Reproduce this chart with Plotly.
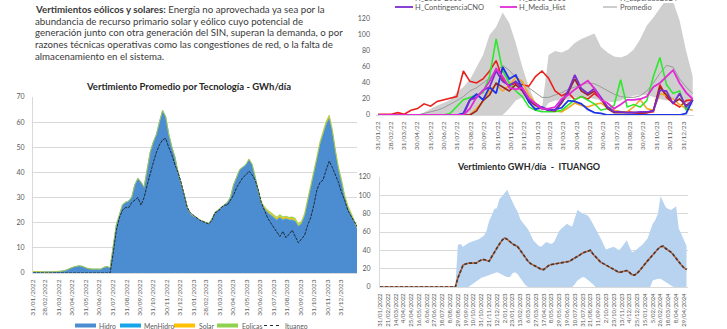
import plotly.graph_objects as go
import pandas as pd

W, H = 727, 329

# ---------------- Vertimiento promedio por tecnología (semanal) ----------------
semanas = pd.date_range("2022-01-31", periods=106, freq="7D")

hidro = [0.3, 0.3, 0.2, 0.2, 0.2, 0.3, 0.3, 0.4, 0.5, 0.6, 0.8, 1.2, 1.8, 2.3, 2.6, 2.8, 2.6, 2.0, 1.6, 1.5,
         1.5, 1.6, 1.5, 2.2, 2.5, 2.0, 10.0, 19.0, 23.0, 27.0, 28.0, 28.5, 30.0, 35.0, 37.5, 36.0, 34.0, 41.0,
         48.0, 52.0, 55.0, 60.0, 64.5, 62.0, 55.0, 50.0, 46.0, 40.0, 36.0, 31.0, 26.0, 23.5, 22.5, 22.0, 21.0,
         20.5, 20.0, 19.5, 21.5, 24.0, 25.0, 26.0, 27.0, 28.0, 30.0, 35.0, 38.0, 41.0, 42.0, 43.0, 45.0, 43.0,
         38.0, 32.0, 27.5, 25.5, 24.0, 23.0, 22.0, 21.0, 22.0, 21.0, 21.5, 21.0, 21.0, 20.5, 18.5, 19.5, 22.5,
         28.0, 33.0, 38.5, 45.0, 51.0, 55.5, 59.0, 61.5, 56.0, 48.0, 41.0, 36.0, 30.0, 26.0, 23.0, 20.0, 17.5]
men_hidro = [0.05, 0.05, 0.05, 0.05, 0.05, 0.05, 0.05, 0.05, 0.05, 0.05, 0.05, 0.05, 0.05, 0.05, 0.05, 0.05,
             0.05, 0.05, 0.05, 0.05, 0.05, 0.05, 0.05, 0.05, 0.05, 0.05, 0.1, 0.15, 0.15, 0.15, 0.15, 0.15,
             0.15, 0.15, 0.15, 0.15, 0.15, 0.15, 0.15, 0.15, 0.15, 0.15, 0.15, 0.15, 0.15, 0.15, 0.15, 0.15,
             0.15, 0.15, 0.15, 0.15, 0.15, 0.15, 0.15, 0.15, 0.15, 0.15, 0.15, 0.15, 0.15, 0.15, 0.15, 0.15,
             0.15, 0.15, 0.15, 0.15, 0.15, 0.15, 0.15, 0.15, 0.15, 0.15, 0.15, 0.15, 0.15, 0.15, 0.15, 0.15,
             0.15, 0.15, 0.15, 0.15, 0.15, 0.15, 0.15, 0.15, 0.15, 0.15, 0.15, 0.15, 0.15, 0.15, 0.15, 0.15,
             0.15, 0.15, 0.15, 0.15, 0.15, 0.15, 0.15, 0.15, 0.15, 0.15]
solar = [0.3, 0.3, 0.2, 0.2, 0.0, 0.0, 0.0, 0.0, 0.0, 0.0, 0.0, 0.0, 0.0, 0.0, 0.0, 0.0, 0.0, 0.0, 0.0, 0.0,
         0.0, 0.0, 0.0, 0.0, 0.0, 0.0, 0.0, 0.0, 0.0, 0.0, 0.0, 0.0, 0.0, 0.0, 0.0, 0.0, 0.0, 0.0, 0.0, 0.0,
         0.0, 0.0, 0.0, 0.0, 0.0, 0.0, 0.0, 0.0, 0.0, 0.0, 0.0, 0.0, 0.0, 0.0, 0.0, 0.0, 0.0, 0.0, 0.0, 0.0,
         0.0, 0.0, 0.0, 0.0, 0.0, 0.0, 0.0, 0.0, 0.0, 0.0, 0.2, 0.2, 0.3, 0.4, 0.5, 0.5, 0.6, 0.6, 0.7, 0.6,
         0.6, 0.7, 0.6, 0.6, 0.7, 0.6, 0.5, 0.6, 0.6, 0.7, 0.7, 0.7, 0.8, 0.8, 0.8, 0.9, 0.9, 0.8, 0.7, 0.7,
         0.6, 0.6, 0.5, 0.5, 0.5, 0.5]
eolicas = [0.0, 0.0, 0.0, 0.0, 0.0, 0.0, 0.0, 0.0, 0.0, 0.0, 0.0, 0.0, 0.0, 0.0, 0.0, 0.0, 0.0, 0.0, 0.0, 0.0,
           0.0, 0.0, 0.0, 0.0, 0.0, 0.0, 0.0, 0.0, 0.0, 0.0, 0.0, 0.0, 0.0, 0.0, 0.0, 0.0, 0.0, 0.0, 0.0, 0.0,
           0.0, 0.0, 0.0, 0.0, 0.0, 0.0, 0.0, 0.0, 0.0, 0.0, 0.0, 0.0, 0.0, 0.0, 0.0, 0.0, 0.0, 0.0, 0.0, 0.0,
           0.0, 0.0, 0.0, 0.0, 0.0, 0.0, 0.0, 0.0, 0.0, 0.0, 0.0, 0.0, 0.0, 0.0, 0.3, 0.3, 0.4, 0.4, 0.4, 0.5,
           0.5, 0.5, 0.4, 0.4, 0.5, 0.5, 0.4, 0.4, 0.4, 0.4, 0.3, 0.3, 0.3, 0.3, 0.3, 0.3, 0.3, 0.3, 0.3, 0.3,
           0.4, 0.4, 0.4, 0.4, 0.4, 0.4]
ituango = [0, 0, 0, 0, 0, 0, 0, 0, 0, 0, 0, 0, 0, 0, 0, 0, 0, 0, 0, 0, 0, 0, 0, 0, 0, 0,
           8, 17, 22, 25, 26, 26, 28, 29, 30, 27, 30, 35, 40, 44, 48, 51, 53, 53.5, 50, 47, 43, 40, 36, 31,
           26, 24, 23, 22, 21, 20.5, 20, 19.5, 21, 24, 24.5, 26, 27, 27, 29, 31, 34, 36, 38, 39, 40.5, 39, 37,
           33, 28, 25, 22, 20, 18, 16, 14.5, 16.5, 14, 15.5, 17, 14.5, 12, 13.5, 15, 19, 22, 27, 33, 36, 37,
           41, 44.5, 42, 39, 36, 32, 29, 25, 23, 20.5, 18.5]

meses_fin = ["2022-01-31", "2022-02-28", "2022-03-31", "2022-04-30", "2022-05-31", "2022-06-30",
             "2022-07-31", "2022-08-31", "2022-09-30", "2022-10-31", "2022-11-30", "2022-12-31",
             "2023-01-31", "2023-02-28", "2023-03-31", "2023-04-30", "2023-05-31", "2023-06-30",
             "2023-07-31", "2023-08-31", "2023-09-30", "2023-10-31", "2023-11-30", "2023-12-31"]
etiquetas_largas = ["31/01/2022", "28/02/2022", "31/03/2022", "30/04/2022", "31/05/2022", "30/06/2022",
                    "31/07/2022", "31/08/2022", "30/09/2022", "31/10/2022", "30/11/2022", "31/12/2022",
                    "31/01/2023", "28/02/2023", "31/03/2023", "30/04/2023", "31/05/2023", "30/06/2023",
                    "31/07/2023", "31/08/2023", "30/09/2023", "31/10/2023", "30/11/2023", "31/12/2023"]
etiquetas_cortas = ["31/01/22", "28/02/22", "31/03/22", "30/04/22", "31/05/22", "30/06/22",
                    "31/07/22", "31/08/22", "30/09/22", "31/10/22", "30/11/22", "31/12/22",
                    "31/01/23", "28/02/23", "31/03/23", "30/04/23", "31/05/23", "30/06/23",
                    "31/07/23", "31/08/23", "30/09/23", "31/10/23", "30/11/23", "31/12/23"]

# ---------------- Escenarios hidrológicos (quincenal) ----------------
quincenas = pd.date_range("2022-01-31", periods=49, freq="15D")

rango_max = [0, 0, 0, 0, 0, 0, 0, 3, 8, 12, 15, 19, 28, 35, 44, 60, 75, 100, 110, 128, 115, 90, 60, 35, 15,
             8, 75, 80, 78, 82, 90, 95, 98, 102, 85, 78, 73, 72, 75, 82, 95, 112, 122, 133, 145, 142, 118,
             80, 48]
rango_min = [0, 0, 0, 0, 0, 0, 0, 0, 0, 0, 0, 0, 0, 0, 0, 0, 0, 0, 0, 0, 8, 18, 22, 18, 8, 3, 15, 18, 18,
             20, 22, 22, 22, 20, 18, 17, 16, 18, 22, 24, 25, 25, 22, 20, 18, 20, 18, 15, 12]
h_rojo = [1, 1, 1, 3, 1, 6, 8, 14, 11, 17, 19, 21, 23, 55, 42, 40, 45, 55, 68, 45, 36, 40, 38, 36, 48,
          55, 46, 30, 24, 28, 19, 23, 20, 27, 20, 10, 5, 4, 4, 3, 2, 3, 4, 38, 22, 15, 10, 18, 19]
h_verde = [0, 0, 0, 0, 0, 0, 0, 0, 0, 0, 0, 2, 10, 19, 22, 25, 28, 48, 95, 55, 40, 30, 23, 10, 6,
           4, 4, 4, 6, 12, 19, 23, 19, 14, 6, 8, 12, 44, 10, 13, 10, 18, 48, 72, 38, 27, 30, 6, 19]
h_naranja = [0, 0, 0, 0, 0, 0, 0, 0, 0, 0, 0, 0, 0, 0, 0, 8, 17, 30, 38, 30, 37, 47, 42, 25, 15,
             9, 6, 5, 4, 9, 15, 12, 10, 13, 15, 9, 6, 4, 4, 10, 19, 8, 6, 27, 24, 20, 13, 8, 6]
h_azul = [0, 0, 0, 0, 0, 0, 0, 0, 0, 0, 0, 0, 0, 2, 19, 26, 19, 35, 27, 60, 45, 50, 33, 16, 7,
          10, 6, 7, 9, 18, 17, 14, 7, 3, 2, 0, 0, 0, 0, 0, 0, 0, 0, 0, 0, 0, 0, 2, 19]
h_granate = [0, 0, 0, 0, 0, 0, 0, 0, 0, 0, 0, 0, 0, 0, 0, 5, 18, 25, 40, 35, 30, 38, 30, 18, 12,
             8, 6, 5, 15, 28, 45, 30, 25, 30, 20, 8, 3, 3, 3, 3, 3, 3, 6, 35, 25, 15, 20, 12, 18]
h_contingencia = [0, 0, 0, 0, 0, 0, 0, 0, 0, 0, 0, 0, 0, 0, 19, 22, 31, 35, 55, 42, 37, 42, 32, 20, 14,
                  9, 6, 6, 17, 30, 50, 33, 27, 33, 22, 10, 4, 4, 3, 3, 4, 4, 5, 31, 30, 14, 27, 10, 19]
h_media_hist = [0, 0, 0, 0, 0, 0, 0, 0, 0, 0, 0, 0, 0, 0, 8, 22, 30, 42, 58, 48, 34, 32, 34, 21, 14,
                8, 8, 10, 20, 25, 32, 37, 43, 33, 19, 15, 8, 13, 19, 19, 20, 23, 35, 40, 48, 56, 40, 28, 20]
promedio = [0, 0, 0, 0, 0, 0, 0, 2, 4, 6, 9, 13, 18, 23, 30, 34, 40, 46, 54, 62, 56, 47, 40, 34, 28,
            22, 22, 25, 28, 32, 35, 38, 40, 39, 35, 30, 26, 23, 22, 22, 24, 30, 40, 52, 62, 60, 45, 35, 27]

# ---------------- Ituango: media y banda mínimo-máximo (semanal) ----------------
semanas_itu = pd.date_range("2022-01-31", periods=119, freq="7D")

itu_media = [0, 0, 0, 0, 0, 0, 0, 0, 0, 0, 0, 0, 0, 0, 0, 0, 0, 0, 0, 0, 0, 0, 0, 0, 0, 0, 0, 0, 0, 0,
             10, 17, 24, 25, 26, 26, 26, 26, 28, 29.5, 30, 29, 28, 33, 38, 42, 47, 51, 53.5, 52,
             49, 47, 45.5, 44, 40, 36, 32, 28, 25.5, 24, 22.5, 21, 19.5, 19, 21.5, 23.5, 24.5, 25, 25.5, 26,
             26.5, 27, 27.5, 28, 30, 31.5, 33, 35, 37, 38, 39.5, 40, 36, 33, 29, 27, 25.5, 24, 22.5, 21,
             19, 17.5, 16, 16.5, 17, 18, 16, 13.5, 13, 15, 18, 21, 25, 28.5, 32, 35, 38, 41.5, 44, 44.5,
             42, 40, 38, 35, 31, 27, 24, 21, 19]
itu_max = [0, 0, 0, 0, 0, 0, 0, 0, 0, 0, 0, 0, 0, 0, 0, 0, 0, 0, 0, 0, 0, 0, 0, 0, 0, 0, 0, 0, 0, 0,
           46, 47, 44, 46, 48, 49, 50, 51, 52, 54, 56, 61, 72, 78, 85, 86, 96, 99, 103, 106,
           99, 92, 87, 82, 74, 70, 67, 63, 57, 51, 48, 45, 44, 47, 49, 48, 47, 49, 55, 61,
           64, 67, 69, 67, 66, 75, 84, 82, 80, 79, 78, 74, 69, 63, 58, 53, 47, 41, 42, 43,
           44, 42, 40, 43, 47, 51, 44, 38, 39, 42, 44, 46, 49, 53, 61, 69, 73, 80, 99, 92,
           87, 85, 84, 86, 88, 64, 58, 52, 45]
itu_min = [0, 0, 0, 0, 0, 0, 0, 0, 0, 0, 0, 0, 0, 0, 0, 0, 0, 0, 0, 0, 0, 0, 0, 0, 0, 0, 0, 0, 0, 0,
           0, 0, 0, 0, 0,
           2, 4, 6, 8, 10, 11, 12, 13, 14, 15, 16, 15, 13, 12, 11, 11, 15, 16, 14, 10, 6, 2,
           0, 0, 0, 0, 0, 0, 0, 0, 0, 0, 0, 0, 0, 0, 0, 0, 0, 0,
           3, 7, 9, 11, 10, 8, 6, 3,
           0, 0, 0, 0, 0, 0, 0, 0, 0, 0, 0, 0, 0, 0, 0, 0, 0, 0, 0, 0, 0, 0,
           7, 8, 9, 9, 7, 5, 3, 1,
           0, 0, 0, 0, 0, 0]

C_HIDRO = "#4b8dd0"
C_MENHIDRO = "#18a4e8"
C_SOLAR = "#ffc000"
C_EOLICA = "#8fd14f"
C_ITU = "#1e2b3a"
TICK = "#595959"
GRID = "#d9d9d9"
FONT = "Lato"


def px(x):
    return x / W


def py(y):
    return 1 - y / H


fig = go.Figure()

# --- panel izquierdo: área apilada por tecnología
for nombre, serie, color in [("Hidro", hidro, C_HIDRO), ("MenHidro", men_hidro, C_MENHIDRO),
                             ("Solar", solar, C_SOLAR), ("Eolicas", eolicas, C_EOLICA)]:
    fig.add_trace(go.Scatter(x=semanas, y=serie, name=nombre, stackgroup="tec", mode="lines",
                             line=dict(width=0.5, color=color), fillcolor=color,
                             xaxis="x", yaxis="y", showlegend=False))
fig.add_trace(go.Scatter(x=semanas, y=ituango, name="Ituango", mode="lines",
                         line=dict(width=1, color=C_ITU, dash="3px,1px"),
                         xaxis="x", yaxis="y", showlegend=False))

# --- panel superior derecho: escenarios
fig.add_trace(go.Scatter(x=quincenas, y=rango_min, mode="lines", line=dict(width=0, color="#cfcfcf"),
                         xaxis="x2", yaxis="y2", showlegend=False, hoverinfo="skip"))
fig.add_trace(go.Scatter(x=quincenas, y=rango_max, mode="lines", line=dict(width=0, color="#cfcfcf"),
                         fill="tonexty", fillcolor="#cfcfcf", xaxis="x2", yaxis="y2", showlegend=False))
for serie, color, ancho in [(promedio, "#9a9a9a", 1.0), (h_rojo, "#e8211c", 1.6), (h_naranja, "#f5a623", 1.6),
                            (h_verde, "#2ee82e", 1.6), (h_granate, "#9b2323", 1.6), (h_azul, "#1d35e6", 1.8),
                            (h_contingencia, "#7a2ccf", 1.8), (h_media_hist, "#e22ad6", 1.8)]:
    fig.add_trace(go.Scatter(x=quincenas, y=serie, mode="lines", line=dict(width=ancho, color=color),
                             xaxis="x2", yaxis="y2", showlegend=False))

# --- panel inferior derecho: Ituango
fig.add_trace(go.Scatter(x=semanas_itu, y=itu_min, mode="lines", line=dict(width=0, color="#b7d3ef"),
                         xaxis="x3", yaxis="y3", showlegend=False, hoverinfo="skip"))
fig.add_trace(go.Scatter(x=semanas_itu, y=itu_max, mode="lines", line=dict(width=0, color="#b7d3ef"),
                         fill="tonexty", fillcolor="#b7d3ef", xaxis="x3", yaxis="y3", showlegend=False))
fig.add_trace(go.Scatter(x=semanas_itu, y=itu_media, mode="lines", line=dict(width=1.6, color="#c8643c"),
                         xaxis="x3", yaxis="y3", showlegend=False))
fig.add_trace(go.Scatter(x=semanas_itu, y=itu_media, mode="lines",
                         line=dict(width=1.6, color="#3b3b3b", dash="3px,2px"),
                         xaxis="x3", yaxis="y3", showlegend=False))

tickfont = dict(family=FONT, size=6.5, color=TICK)

fig.update_layout(
    width=W, height=H, margin=dict(l=0, r=0, t=0, b=0, autoexpand=False),
    paper_bgcolor="white", plot_bgcolor="white", font=dict(family=FONT, color="#404040"),
    xaxis=dict(domain=[px(33), px(357)], anchor="y", type="date",
               range=[semanas[0], semanas[-1]], tickvals=meses_fin, ticktext=etiquetas_largas,
               tickangle=-90, tickfont=tickfont, showgrid=False, showline=True, linecolor=GRID,
               ticks="", ticklabelstandoff=3),
    yaxis=dict(domain=[py(273), py(97)], anchor="x", range=[0, 70], dtick=10, showgrid=True,
               gridcolor=GRID, gridwidth=1, zeroline=False, showline=True, linecolor=GRID,
               tickfont=dict(family=FONT, size=7, color=TICK), ticks="", ticklabelstandoff=6),
    xaxis2=dict(domain=[px(376), px(694)], anchor="y2", type="date",
                range=["2022-01-26", "2024-01-24"], tickvals=meses_fin, ticktext=etiquetas_cortas,
                tickangle=-90, tickfont=tickfont, showgrid=False, showline=True, linecolor=GRID,
                ticks="", ticklabelstandoff=3),
    yaxis2=dict(domain=[py(115), py(3)], anchor="x2", range=[0, 140], dtick=20, showgrid=False,
                zeroline=False, showline=False, tickfont=dict(family=FONT, size=7, color=TICK),
                ticks="", ticklabelstandoff=5),
    xaxis3=dict(domain=[px(380), px(688)], anchor="y3", type="date",
                range=["2022-01-31", "2024-05-10"], tick0="2022-01-31", dtick=21 * 86400000,
                tickformat="%-d/%m/%Y", tickangle=-90, tickfont=dict(family=FONT, size=6, color=TICK),
                showgrid=False, showline=True, linecolor=GRID, ticks="", ticklabelstandoff=3),
    yaxis3=dict(domain=[py(287), py(177)], anchor="x3", range=[0, 120], dtick=20, showgrid=True,
                gridcolor=GRID, zeroline=False, showline=True, linecolor=GRID,
                tickfont=dict(family=FONT, size=7, color=TICK), ticks="", ticklabelstandoff=7),
)

annotations = []
shapes = []

# bloque de texto
lineas = ["<b>Vertimientos eólicos y solares:</b> Energía no aprovechada ya sea por la",
          "abundancia de recurso primario solar y eólico cuyo potencial de",
          "generación junto con otra generación del SIN, superan la demanda, o por",
          "razones técnicas operativas como las congestiones de red, o la falta de",
          "almacenamiento en el sistema."]
for n, texto in enumerate(lineas):
    annotations.append(dict(text=texto, x=px(33), y=py(9 + 11.7 * n), xref="paper", yref="paper",
                            xanchor="left", yanchor="middle", showarrow=False,
                            font=dict(family=FONT, size=9.7, color="#3a3a3a")))

annotations.append(dict(text="<b>Vertimiento Promedio por Tecnología - GWh/día</b>", x=px(188), y=py(87),
                        xref="paper", yref="paper", xanchor="center", yanchor="middle", showarrow=False,
                        font=dict(family=FONT, size=9.5, color="#262626")))
annotations.append(dict(text="<b>Vertimiento GWH/día  -  ITUANGO</b>", x=px(528), y=py(166),
                        xref="paper", yref="paper", xanchor="center", yanchor="middle", showarrow=False,
                        font=dict(family=FONT, size=9, color="#262626")))

# leyenda panel izquierdo
ley_izq = [("Hidro", C_HIDRO, 75, 96, 98, "solid"), ("MenHidro", C_MENHIDRO, 120, 141, 143, "solid"),
           ("Solar", C_SOLAR, 174, 195, 198, "solid"), ("Eolicas", C_EOLICA, 217, 238, 241, "solid"),
           ("Ituango", C_ITU, 264, 281, 284, "dot")]
for texto, color, x0, x1, xt, estilo in ley_izq:
    shapes.append(dict(type="line", xref="paper", yref="paper", x0=px(x0), x1=px(x1), y0=py(325.5),
                       y1=py(325.5), line=dict(color=color, width=4 if estilo == "solid" else 1, dash=estilo)))
    annotations.append(dict(text=texto, x=px(xt), y=py(325.5), xref="paper", yref="paper", xanchor="left",
                            yanchor="middle", showarrow=False, borderpad=0,
                            font=dict(family=FONT, size=6.8, color=TICK)))

# leyenda panel superior derecho (la primera fila queda recortada por el borde superior)
ley_der = [("H_2015-2016", "#b9a7ef", 395, 413, 414, -1, 1.6), ("H_2010-2011", "#7ff07f", 500, 517, 518, -1, 1.6),
           ("H_Esperado2024", "#fbd38a", 603, 617, 619, -1, 1.6),
           ("H_ContingenciaCNO", "#7a2ccf", 395, 413, 414, 7, 1.8), ("H_Media_Hist", "#e22ad6", 500, 517, 518, 7, 1.8),
           ("Promedio", "#9a9a9a", 603, 617, 619, 7, 1.0)]
for texto, color, x0, x1, xt, yy, ancho in ley_der:
    shapes.append(dict(type="line", xref="paper", yref="paper", x0=px(x0), x1=px(x1), y0=py(yy), y1=py(yy),
                       line=dict(color=color, width=ancho)))
    annotations.append(dict(text=texto, x=px(xt), y=py(yy), xref="paper", yref="paper", xanchor="left",
                            yanchor="middle", showarrow=False, borderpad=0,
                            font=dict(family=FONT, size=7.5, color=TICK)))

fig.update_layout(annotations=annotations, shapes=shapes)
fig.write_html("out.html")
